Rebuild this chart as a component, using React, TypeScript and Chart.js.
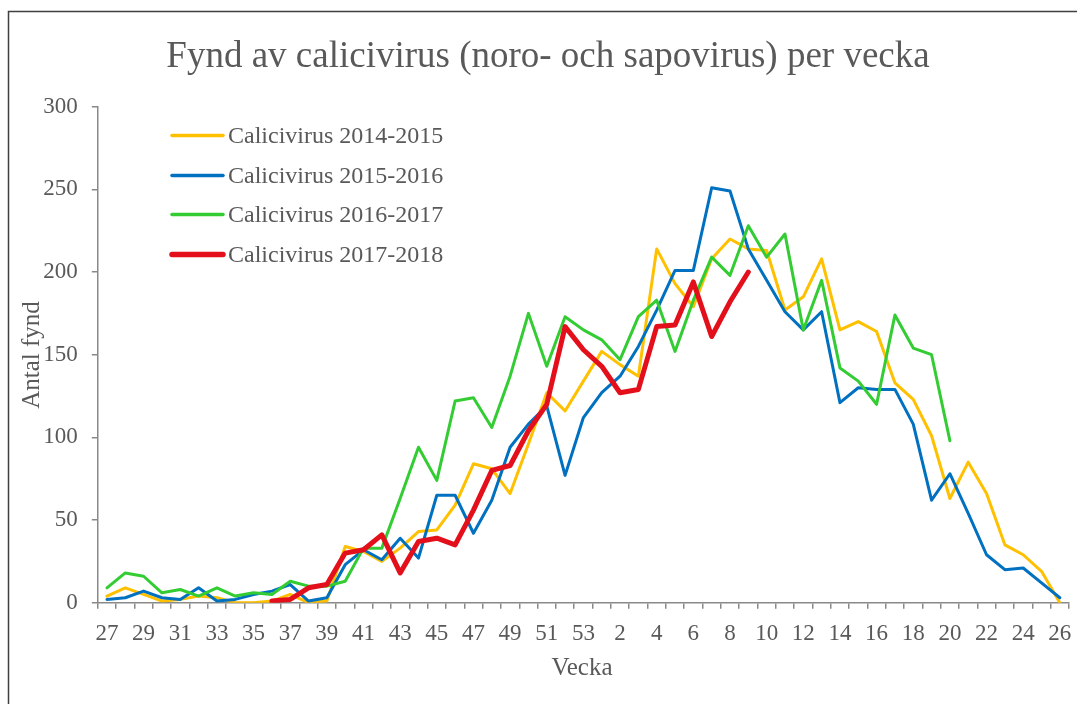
import React, { useEffect, useRef } from "react";
import { Chart, registerables } from "chart.js";

Chart.register(...registerables);

const weeks: string[] = [
  "27", "28", "29", "30", "31", "32", "33", "34", "35", "36", "37", "38", "39", "40",
  "41", "42", "43", "44", "45", "46", "47", "48", "49", "50", "51", "52", "53",
  "1", "2", "3", "4", "5", "6", "7", "8", "9", "10", "11", "12", "13", "14", "15",
  "16", "17", "18", "19", "20", "21", "22", "23", "24", "25", "26",
];

const season1415: (number | null)[] = [
  4, 9, 5, 1, 2, 4, 3, 0, 0, 1, 5, 0, 1, 34, 31, 25, 33, 43, 44, 59, 84, 81, 66, 96, 127, 116, 134,
  152, 144, 137, 214, 193, 179, 208, 220, 214, 213, 177, 185, 208, 165, 170, 164, 133, 123, 101, 63,
  85, 66, 35, 29, 19, 0,
];

const season1516: (number | null)[] = [
  2, 3, 7, 3, 2, 9, 1, 2, 5, 7, 11, 1, 3, 23, 32, 26, 39, 27, 65, 65, 42, 62, 94, 108, 119, 77, 112,
  127, 137, 155, 177, 201, 201, 251, 249, 214, 195, 176, 165, 176, 121, 130, 129, 129, 108, 62, 78,
  54, 29, 20, 21, 12, 3,
];

const season1617: (number | null)[] = [
  9, 18, 16, 6, 8, 4, 9, 4, 6, 5, 13, 10, 10, 13, 33, 33, 63, 94, 74, 122, 124, 106, 137, 175, 143,
  173, 165, 159, 147, 173, 183, 152, 183, 209, 198, 228, 209, 223, 165, 195, 142, 134, 120, 174, 154,
  150, 98, null, null, null, null, null, null,
];

const season1718: (number | null)[] = [
  null, null, null, null, null, null, null, null, null, 1, 2, 9, 11, 30, 32, 41, 18, 37, 39, 35, 56,
  80, 83, 104, 120, 167, 153, 143, 127, 129, 167, 168, 194, 161, 182, 200, null, null, null, null,
  null, null, null, null, null, null, null, null, null, null, null, null, null,
];

const seriesNames = [
  "Calicivirus 2014-2015",
  "Calicivirus 2015-2016",
  "Calicivirus 2016-2017",
  "Calicivirus 2017-2018",
];
const seriesColors = ["#FFC000", "#0070C0", "#33CC33", "#E3101B"];
const seriesWidths = [3, 3, 3, 5];

const titleText = "Fynd av calicivirus (noro- och sapovirus) per vecka";
const yTitle = "Antal fynd";
const xTitle = "Vecka";

const FONT = "'Liberation Serif', 'Times New Roman', serif";
const TEXT = "#595959";
const AXIS = "#898989";

const decorPlugin = {
  id: "decor",
  afterDraw(chart: any) {
    const ctx = chart.ctx as CanvasRenderingContext2D;
    ctx.save();
    // outer border (left and top visible)
    ctx.strokeStyle = "#404040";
    ctx.lineWidth = 1.5;
    ctx.beginPath();
    ctx.moveTo(8.5, 710);
    ctx.lineTo(8.5, 11.5);
    ctx.lineTo(1090, 11.5);
    ctx.stroke();

    // title
    ctx.fillStyle = TEXT;
    ctx.font = `37px ${FONT}`;
    ctx.textAlign = "center";
    ctx.textBaseline = "alphabetic";
    ctx.fillText(titleText, 548, 67);

    // axis titles
    ctx.font = `25px ${FONT}`;
    ctx.textBaseline = "middle";
    ctx.fillText(xTitle, 582, 668);
    ctx.save();
    ctx.translate(32, 355);
    ctx.rotate(-Math.PI / 2);
    ctx.fillText(yTitle, 0, 0);
    ctx.restore();

    // legend
    const ys = [135.5, 175.5, 214.5, 254.5];
    ctx.font = `24px ${FONT}`;
    ctx.textAlign = "left";
    ctx.lineCap = "round";
    seriesNames.forEach((name, i) => {
      ctx.strokeStyle = seriesColors[i];
      ctx.lineWidth = seriesWidths[i] + 0.5;
      ctx.beginPath();
      ctx.moveTo(172, ys[i]);
      ctx.lineTo(223, ys[i]);
      ctx.stroke();
      ctx.fillStyle = TEXT;
      ctx.fillText(name, 228, ys[i] + 1);
    });
    ctx.restore();
  },
};

export default function App() {
  const ref = useRef<HTMLCanvasElement | null>(null);

  useEffect(() => {
    if (!ref.current) return;
    const data = [season1415, season1516, season1617, season1718];
    const chart = new Chart(ref.current, {
      type: "line",
      data: {
        labels: weeks,
        datasets: data.map((d, i) => ({
          label: seriesNames[i],
          data: d,
          borderColor: seriesColors[i],
          backgroundColor: seriesColors[i],
          borderWidth: seriesWidths[i],
          pointRadius: 0,
          pointHoverRadius: 0,
          tension: 0,
          fill: false,
          spanGaps: false,
          borderJoinStyle: "round" as const,
          borderCapStyle: "round" as const,
          order: 3 - i,
        })),
      },
      options: {
        animation: false,
        responsive: true,
        maintainAspectRatio: false,
        devicePixelRatio: 1,
        layout: { padding: { top: 106.7, right: 8, bottom: 0, left: 0 } },
        plugins: {
          legend: { display: false },
          title: { display: false },
          tooltip: { enabled: false },
        },
        scales: {
          x: {
            type: "category",
            offset: true,
            grid: {
              offset: true,
              drawOnChartArea: false,
              drawTicks: true,
              tickLength: 6,
              color: AXIS,
              lineWidth: 1.5,
            },
            border: { display: true, color: AXIS, width: 1.5 },
            ticks: {
              autoSkip: false,
              maxRotation: 0,
              minRotation: 0,
              padding: 11,
              color: TEXT,
              font: { family: FONT, size: 23 },
              callback: (_v: any, i: number) => (i % 2 === 0 ? weeks[i] : ""),
            },
            afterFit: (s: any) => {
              s.height = 101.3;
              s.paddingLeft = 0;
              s.paddingRight = 0;
            },
          },
          y: {
            min: 0,
            max: 300,
            grid: {
              drawOnChartArea: false,
              drawTicks: true,
              tickLength: 6,
              color: AXIS,
              lineWidth: 1.5,
            },
            border: { display: true, color: AXIS, width: 1.5 },
            ticks: {
              stepSize: 50,
              padding: 14,
              color: TEXT,
              font: { family: FONT, size: 23 },
            },
            afterFit: (s: any) => {
              s.width = 97.8;
              s.paddingTop = 0;
              s.paddingBottom = 0;
            },
          },
        },
      },
      plugins: [decorPlugin],
    });
    return () => chart.destroy();
  }, []);

  return (
    <div style={{ position: "fixed", left: 0, top: 0, width: 1077, height: 704, background: "#fff" }}>
      <canvas ref={ref} />
    </div>
  );
}
